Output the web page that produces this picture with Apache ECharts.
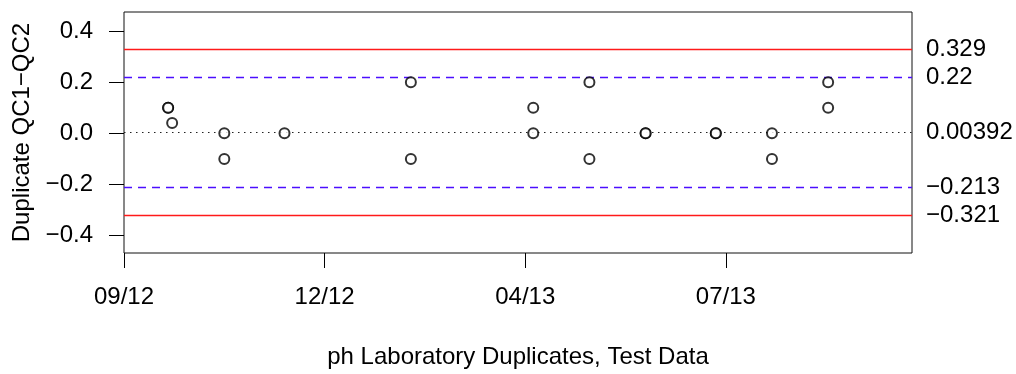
<!DOCTYPE html>
<html>
<head>
<meta charset="utf-8">
<script src="https://cdn.jsdelivr.net/npm/echarts@6/dist/echarts.min.js"></script>
<style>
html,body{margin:0;padding:0;background:#fff;}
#chart{width:1016px;height:374px;}
</style>
</head>
<body>
<div id="chart"></div>
<script>
// ---- data ----
var originDate = '2012-09-20';           // day 0 of the x scale
var sampleDates = ['2012-10-12','2012-10-12','2012-10-14','2012-11-09','2012-11-09','2012-12-09',
                   '2013-02-10','2013-02-10','2013-04-12','2013-04-12','2013-05-10','2013-05-10',
                   '2013-06-07','2013-06-07','2013-07-12','2013-07-12','2013-08-09','2013-08-09',
                   '2013-09-06','2013-09-06'];
var duplicateDiffs = [0.1,0.1,0.04,0,-0.1,0,
                      0.2,-0.1,0.1,0,0.2,-0.1,
                      0,0,0,0,0,-0.1,
                      0.2,0.1];
var xTickDates = ['2012-09-20','2012-12-29','2013-04-08','2013-07-17'];
var yTicks = [-0.4,-0.2,0,0.2,0.4];
var limitValues = [0.329, 0.22, 0.00392, -0.213, -0.321];
var limitKinds  = ['control','warning','mean','warning','control'];
var xTitle = 'ph Laboratory Duplicates, Test Data';
var yTitle = 'Duplicate QC1\u2212QC2';

// ---- helpers ----
var DAY = 86400000;
function dayOffset(s){ return (new Date(s) - new Date(originDate)) / DAY; }
function fmtMinus(s){ return String(s).replace('-', '\u2212'); }

var pts = sampleDates.map(function(d,i){ return [dayOffset(d), duplicateDiffs[i]]; });
var xTickVals = xTickDates.map(dayOffset);

var styleFor = {
  control: {stroke:'#ff1a1a', lineDash:null,  lineWidth:1.4},
  warning: {stroke:'#4b0fff', lineDash:[8,6], lineWidth:1.3},
  mean:    {stroke:'#222222', lineDash:[1.5,4.5], lineWidth:1.2}
};

var FONT = '"Liberation Sans", Arial, Helvetica, sans-serif';

var chart = echarts.init(document.getElementById('chart'), null, {renderer:'canvas'});
chart.setOption({
  animation: false,
  backgroundColor: '#ffffff',
  grid: {left:124, right:104, top:12, bottom:118, show:true, borderColor:'#111', borderWidth:1,
         backgroundColor:'transparent'},
  xAxis: {
    type:'value', min:0, max:392.8,
    axisLine:{show:false, onZero:false},
    splitLine:{show:false},
    axisTick:{show:true, length:15, customValues:xTickVals, lineStyle:{color:'#000', width:1}},
    axisLabel:{show:true, customValues:xTickVals, margin:32, fontSize:24, fontFamily:FONT, color:'#000',
      formatter:function(v){
        var d = new Date(new Date(originDate).getTime() + v*DAY);
        var mm = String(d.getUTCMonth()+1).padStart(2,'0');
        var yy = String(d.getUTCFullYear()%100).padStart(2,'0');
        return mm + '/' + yy;
      }},
    name: xTitle, nameLocation:'middle', nameGap:92,
    nameTextStyle:{fontSize:24, fontFamily:FONT, color:'#000'}
  },
  yAxis: {
    type:'value', min:-0.468, max:0.4745,
    axisLine:{show:false, onZero:false},
    splitLine:{show:false},
    axisTick:{show:true, length:15, customValues:yTicks, lineStyle:{color:'#000', width:1}},
    axisLabel:{show:true, customValues:yTicks, margin:31, fontSize:24, fontFamily:FONT, color:'#000',
      formatter:function(v){ return fmtMinus(v.toFixed(1)); }},
    name: yTitle, nameLocation:'middle', nameGap:88, nameRotate:90,
    nameTextStyle:{fontSize:24, fontFamily:FONT, color:'#000'}
  },
  series: [{
    type:'custom',
    silent:true,
    clip:false,
    data: limitValues.map(function(v,i){ return [0, v, i]; }),
    encode:{x:0, y:1},
    renderItem:function(params, api){
      var v = api.value(1);
      var k = limitKinds[api.value(2)];
      var cs = params.coordSys;
      var y = Math.floor(api.coord([0, v])[1]) + 0.5;   // crisp pixel row
      var st = styleFor[k];
      return {
        type:'group',
        children:[
          {type:'line', shape:{x1:cs.x, y1:y, x2:cs.x+cs.width, y2:y},
           style:{stroke:st.stroke, lineWidth:st.lineWidth, lineDash:st.lineDash, opacity:1}},
          {type:'text', x:cs.x+cs.width+14, y:y,
           style:{text:fmtMinus(v), fill:'#000', fontSize:24, fontFamily:FONT,
                  align:'left', verticalAlign:'middle'}}
        ]
      };
    },
    z:2
  },{
    type:'scatter',
    data: pts,
    symbol:'emptyCircle',
    symbolSize:10,
    itemStyle:{color:'#000', borderColor:'#000', borderWidth:1.6},
    z: 5
  }]
});
</script>
</body>
</html>
